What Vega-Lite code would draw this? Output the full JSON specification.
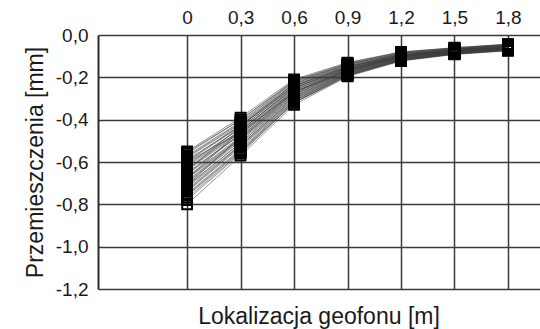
{
  "$schema": "https://vega.github.io/schema/vega-lite/v6.json",
  "autosize": "none",
  "width": 442,
  "height": 254,
  "padding": {"left": 98, "top": 35, "right": 0, "bottom": 40},
  "background": "white",
  "config": {
    "view": {"stroke": null},
    "font": "Liberation Sans",
    "axis": {"labelFont": "Liberation Sans", "titleFont": "Liberation Sans", "labelColor": "#1a1a1a", "titleColor": "#1a1a1a", "titleFontWeight": "normal"}
  },
  "title": {"text": "Lokalizacja geofonu [m]", "orient": "bottom", "anchor": "middle", "frame": "group", "fontSize": 23, "fontWeight": "normal", "font": "Liberation Sans", "color": "#1a1a1a", "offset": 7},
  "data": {"values": [
    {"s":1,"x":0,"y":-0.55},{"s":1,"x":0.3,"y":-0.39},{"s":1,"x":0.6,"y":-0.21},{"s":1,"x":0.9,"y":-0.13},{"s":1,"x":1.2,"y":-0.08},{"s":1,"x":1.5,"y":-0.06},{"s":1,"x":1.8,"y":-0.043},
    {"s":2,"x":0,"y":-0.56},{"s":2,"x":0.3,"y":-0.40},{"s":2,"x":0.6,"y":-0.22},{"s":2,"x":0.9,"y":-0.135},{"s":2,"x":1.2,"y":-0.082},{"s":2,"x":1.5,"y":-0.062},{"s":2,"x":1.8,"y":-0.045},
    {"s":3,"x":0,"y":-0.57},{"s":3,"x":0.3,"y":-0.41},{"s":3,"x":0.6,"y":-0.22},{"s":3,"x":0.9,"y":-0.14},{"s":3,"x":1.2,"y":-0.085},{"s":3,"x":1.5,"y":-0.064},{"s":3,"x":1.8,"y":-0.046},
    {"s":4,"x":0,"y":-0.58},{"s":4,"x":0.3,"y":-0.42},{"s":4,"x":0.6,"y":-0.23},{"s":4,"x":0.9,"y":-0.14},{"s":4,"x":1.2,"y":-0.088},{"s":4,"x":1.5,"y":-0.066},{"s":4,"x":1.8,"y":-0.048},
    {"s":5,"x":0,"y":-0.59},{"s":5,"x":0.3,"y":-0.43},{"s":5,"x":0.6,"y":-0.23},{"s":5,"x":0.9,"y":-0.145},{"s":5,"x":1.2,"y":-0.09},{"s":5,"x":1.5,"y":-0.068},{"s":5,"x":1.8,"y":-0.05},
    {"s":6,"x":0,"y":-0.60},{"s":6,"x":0.3,"y":-0.43},{"s":6,"x":0.6,"y":-0.24},{"s":6,"x":0.9,"y":-0.15},{"s":6,"x":1.2,"y":-0.092},{"s":6,"x":1.5,"y":-0.069},{"s":6,"x":1.8,"y":-0.051},
    {"s":7,"x":0,"y":-0.61},{"s":7,"x":0.3,"y":-0.44},{"s":7,"x":0.6,"y":-0.24},{"s":7,"x":0.9,"y":-0.15},{"s":7,"x":1.2,"y":-0.094},{"s":7,"x":1.5,"y":-0.07},{"s":7,"x":1.8,"y":-0.053},
    {"s":8,"x":0,"y":-0.62},{"s":8,"x":0.3,"y":-0.45},{"s":8,"x":0.6,"y":-0.25},{"s":8,"x":0.9,"y":-0.155},{"s":8,"x":1.2,"y":-0.096},{"s":8,"x":1.5,"y":-0.071},{"s":8,"x":1.8,"y":-0.055},
    {"s":9,"x":0,"y":-0.63},{"s":9,"x":0.3,"y":-0.45},{"s":9,"x":0.6,"y":-0.25},{"s":9,"x":0.9,"y":-0.158},{"s":9,"x":1.2,"y":-0.098},{"s":9,"x":1.5,"y":-0.073},{"s":9,"x":1.8,"y":-0.056},
    {"s":10,"x":0,"y":-0.64},{"s":10,"x":0.3,"y":-0.46},{"s":10,"x":0.6,"y":-0.26},{"s":10,"x":0.9,"y":-0.16},{"s":10,"x":1.2,"y":-0.10},{"s":10,"x":1.5,"y":-0.074},{"s":10,"x":1.8,"y":-0.058},
    {"s":11,"x":0,"y":-0.65},{"s":11,"x":0.3,"y":-0.47},{"s":11,"x":0.6,"y":-0.26},{"s":11,"x":0.9,"y":-0.163},{"s":11,"x":1.2,"y":-0.101},{"s":11,"x":1.5,"y":-0.075},{"s":11,"x":1.8,"y":-0.059},
    {"s":12,"x":0,"y":-0.66},{"s":12,"x":0.3,"y":-0.47},{"s":12,"x":0.6,"y":-0.27},{"s":12,"x":0.9,"y":-0.165},{"s":12,"x":1.2,"y":-0.103},{"s":12,"x":1.5,"y":-0.077},{"s":12,"x":1.8,"y":-0.06},
    {"s":13,"x":0,"y":-0.67},{"s":13,"x":0.3,"y":-0.48},{"s":13,"x":0.6,"y":-0.27},{"s":13,"x":0.9,"y":-0.168},{"s":13,"x":1.2,"y":-0.105},{"s":13,"x":1.5,"y":-0.078},{"s":13,"x":1.8,"y":-0.061},
    {"s":14,"x":0,"y":-0.68},{"s":14,"x":0.3,"y":-0.49},{"s":14,"x":0.6,"y":-0.28},{"s":14,"x":0.9,"y":-0.17},{"s":14,"x":1.2,"y":-0.106},{"s":14,"x":1.5,"y":-0.079},{"s":14,"x":1.8,"y":-0.062},
    {"s":15,"x":0,"y":-0.69},{"s":15,"x":0.3,"y":-0.49},{"s":15,"x":0.6,"y":-0.28},{"s":15,"x":0.9,"y":-0.172},{"s":15,"x":1.2,"y":-0.108},{"s":15,"x":1.5,"y":-0.08},{"s":15,"x":1.8,"y":-0.063},
    {"s":16,"x":0,"y":-0.70},{"s":16,"x":0.3,"y":-0.50},{"s":16,"x":0.6,"y":-0.29},{"s":16,"x":0.9,"y":-0.175},{"s":16,"x":1.2,"y":-0.11},{"s":16,"x":1.5,"y":-0.082},{"s":16,"x":1.8,"y":-0.065},
    {"s":17,"x":0,"y":-0.71},{"s":17,"x":0.3,"y":-0.51},{"s":17,"x":0.6,"y":-0.29},{"s":17,"x":0.9,"y":-0.178},{"s":17,"x":1.2,"y":-0.112},{"s":17,"x":1.5,"y":-0.083},{"s":17,"x":1.8,"y":-0.066},
    {"s":18,"x":0,"y":-0.72},{"s":18,"x":0.3,"y":-0.52},{"s":18,"x":0.6,"y":-0.30},{"s":18,"x":0.9,"y":-0.18},{"s":18,"x":1.2,"y":-0.113},{"s":18,"x":1.5,"y":-0.084},{"s":18,"x":1.8,"y":-0.067},
    {"s":19,"x":0,"y":-0.73},{"s":19,"x":0.3,"y":-0.52},{"s":19,"x":0.6,"y":-0.30},{"s":19,"x":0.9,"y":-0.182},{"s":19,"x":1.2,"y":-0.115},{"s":19,"x":1.5,"y":-0.085},{"s":19,"x":1.8,"y":-0.068},
    {"s":20,"x":0,"y":-0.74},{"s":20,"x":0.3,"y":-0.53},{"s":20,"x":0.6,"y":-0.31},{"s":20,"x":0.9,"y":-0.185},{"s":20,"x":1.2,"y":-0.117},{"s":20,"x":1.5,"y":-0.087},{"s":20,"x":1.8,"y":-0.069},
    {"s":21,"x":0,"y":-0.75},{"s":21,"x":0.3,"y":-0.54},{"s":21,"x":0.6,"y":-0.31},{"s":21,"x":0.9,"y":-0.187},{"s":21,"x":1.2,"y":-0.118},{"s":21,"x":1.5,"y":-0.088},{"s":21,"x":1.8,"y":-0.07},
    {"s":22,"x":0,"y":-0.76},{"s":22,"x":0.3,"y":-0.55},{"s":22,"x":0.6,"y":-0.32},{"s":22,"x":0.9,"y":-0.19},{"s":22,"x":1.2,"y":-0.12},{"s":22,"x":1.5,"y":-0.089},{"s":22,"x":1.8,"y":-0.072},
    {"s":23,"x":0,"y":-0.78},{"s":23,"x":0.3,"y":-0.56},{"s":23,"x":0.6,"y":-0.32},{"s":23,"x":0.9,"y":-0.193},{"s":23,"x":1.2,"y":-0.121},{"s":23,"x":1.5,"y":-0.09},{"s":23,"x":1.8,"y":-0.073},
    {"s":24,"x":0,"y":-0.80},{"s":24,"x":0.3,"y":-0.57},{"s":24,"x":0.6,"y":-0.33},{"s":24,"x":0.9,"y":-0.196},{"s":24,"x":1.2,"y":-0.123},{"s":24,"x":1.5,"y":-0.092},{"s":24,"x":1.8,"y":-0.075},
    {"s":25,"x":0,"y":-0.64},{"s":25,"x":0.3,"y":-0.43},{"s":25,"x":0.6,"y":-0.24},{"s":25,"x":0.9,"y":-0.15},{"s":25,"x":1.2,"y":-0.095},{"s":25,"x":1.5,"y":-0.07},{"s":25,"x":1.8,"y":-0.055},
    {"s":26,"x":0,"y":-0.71},{"s":26,"x":0.3,"y":-0.48},{"s":26,"x":0.6,"y":-0.27},{"s":26,"x":0.9,"y":-0.17},{"s":26,"x":1.2,"y":-0.105},{"s":26,"x":1.5,"y":-0.078},{"s":26,"x":1.8,"y":-0.06},
    {"s":27,"x":0,"y":-0.555},{"s":27,"x":0.3,"y":-0.40},{"s":27,"x":0.6,"y":-0.215},{"s":27,"x":0.9,"y":-0.133},{"s":27,"x":1.2,"y":-0.081},{"s":27,"x":1.5,"y":-0.061},{"s":27,"x":1.8,"y":-0.044},
    {"s":28,"x":0,"y":-0.575},{"s":28,"x":0.3,"y":-0.415},{"s":28,"x":0.6,"y":-0.225},{"s":28,"x":0.9,"y":-0.14},{"s":28,"x":1.2,"y":-0.086},{"s":28,"x":1.5,"y":-0.065},{"s":28,"x":1.8,"y":-0.047},
    {"s":29,"x":0,"y":-0.595},{"s":29,"x":0.3,"y":-0.425},{"s":29,"x":0.6,"y":-0.235},{"s":29,"x":0.9,"y":-0.147},{"s":29,"x":1.2,"y":-0.09},{"s":29,"x":1.5,"y":-0.067},{"s":29,"x":1.8,"y":-0.05},
    {"s":30,"x":0,"y":-0.615},{"s":30,"x":0.3,"y":-0.44},{"s":30,"x":0.6,"y":-0.245},{"s":30,"x":0.9,"y":-0.152},{"s":30,"x":1.2,"y":-0.095},{"s":30,"x":1.5,"y":-0.07},{"s":30,"x":1.8,"y":-0.054},
    {"s":31,"x":0,"y":-0.635},{"s":31,"x":0.3,"y":-0.455},{"s":31,"x":0.6,"y":-0.255},{"s":31,"x":0.9,"y":-0.158},{"s":31,"x":1.2,"y":-0.099},{"s":31,"x":1.5,"y":-0.073},{"s":31,"x":1.8,"y":-0.057},
    {"s":32,"x":0,"y":-0.655},{"s":32,"x":0.3,"y":-0.465},{"s":32,"x":0.6,"y":-0.265},{"s":32,"x":0.9,"y":-0.163},{"s":32,"x":1.2,"y":-0.102},{"s":32,"x":1.5,"y":-0.076},{"s":32,"x":1.8,"y":-0.059},
    {"s":33,"x":0,"y":-0.675},{"s":33,"x":0.3,"y":-0.485},{"s":33,"x":0.6,"y":-0.275},{"s":33,"x":0.9,"y":-0.168},{"s":33,"x":1.2,"y":-0.105},{"s":33,"x":1.5,"y":-0.078},{"s":33,"x":1.8,"y":-0.061},
    {"s":34,"x":0,"y":-0.695},{"s":34,"x":0.3,"y":-0.495},{"s":34,"x":0.6,"y":-0.285},{"s":34,"x":0.9,"y":-0.173},{"s":34,"x":1.2,"y":-0.109},{"s":34,"x":1.5,"y":-0.081},{"s":34,"x":1.8,"y":-0.064},
    {"s":35,"x":0,"y":-0.715},{"s":35,"x":0.3,"y":-0.51},{"s":35,"x":0.6,"y":-0.295},{"s":35,"x":0.9,"y":-0.178},{"s":35,"x":1.2,"y":-0.112},{"s":35,"x":1.5,"y":-0.083},{"s":35,"x":1.8,"y":-0.066},
    {"s":36,"x":0,"y":-0.735},{"s":36,"x":0.3,"y":-0.525},{"s":36,"x":0.6,"y":-0.305},{"s":36,"x":0.9,"y":-0.183},{"s":36,"x":1.2,"y":-0.116},{"s":36,"x":1.5,"y":-0.086},{"s":36,"x":1.8,"y":-0.068},
    {"s":37,"x":0,"y":-0.755},{"s":37,"x":0.3,"y":-0.545},{"s":37,"x":0.6,"y":-0.315},{"s":37,"x":0.9,"y":-0.188},{"s":37,"x":1.2,"y":-0.119},{"s":37,"x":1.5,"y":-0.088},{"s":37,"x":1.8,"y":-0.071},
    {"s":38,"x":0,"y":-0.77},{"s":38,"x":0.3,"y":-0.555},{"s":38,"x":0.6,"y":-0.32},{"s":38,"x":0.9,"y":-0.192},{"s":38,"x":1.2,"y":-0.12},{"s":38,"x":1.5,"y":-0.09},{"s":38,"x":1.8,"y":-0.072},
    {"s":39,"x":0,"y":-0.60},{"s":39,"x":0.3,"y":-0.46},{"s":39,"x":0.6,"y":-0.27},{"s":39,"x":0.9,"y":-0.165},{"s":39,"x":1.2,"y":-0.10},{"s":39,"x":1.5,"y":-0.075},{"s":39,"x":1.8,"y":-0.058},
    {"s":40,"x":0,"y":-0.68},{"s":40,"x":0.3,"y":-0.45},{"s":40,"x":0.6,"y":-0.25},{"s":40,"x":0.9,"y":-0.155},{"s":40,"x":1.2,"y":-0.10},{"s":40,"x":1.5,"y":-0.074},{"s":40,"x":1.8,"y":-0.057}
  ]},
  "encoding": {
    "x": {"field": "x", "type": "quantitative", "scale": {"domain": [-0.5, 1.98], "nice": false, "zero": false},
      "axis": {"orient": "top", "title": null, "values": [0, 0.3, 0.6, 0.9, 1.2, 1.5, 1.8], "labelExpr": "replace('' + datum.value, '.', ',')", "labelFontSize": 19, "labelPadding": 8, "ticks": false, "domain": false, "grid": true, "gridColor": "#3a3a3a", "gridWidth": 1.5, "labelFlush": false}},
    "y": {"field": "y", "type": "quantitative", "scale": {"domain": [-1.2, 0], "nice": false},
      "axis": {"title": "Przemieszczenia [mm]", "titleFontSize": 23, "titlePadding": 8, "values": [0, -0.2, -0.4, -0.6, -0.8, -1.0, -1.2], "labelExpr": "(datum.value < -0.0001 ? '-' : '') + replace(format(abs(datum.value), '.1f'), '.', ',')", "labelFontSize": 19, "labelPadding": 10, "ticks": false, "domain": true, "domainColor": "#2a2a2a", "domainWidth": 2, "grid": true, "gridColor": "#3a3a3a", "gridWidth": 1.5}}
  },
  "layer": [
    {"mark": {"type": "line", "color": "#3c3c3c", "strokeWidth": 1, "opacity": 0.55}, "encoding": {"detail": {"field": "s", "type": "nominal"}}},
    {"mark": {"type": "point", "shape": "square", "size": 95, "filled": false, "stroke": "black", "strokeWidth": 2, "opacity": 1}}
  ]
}
